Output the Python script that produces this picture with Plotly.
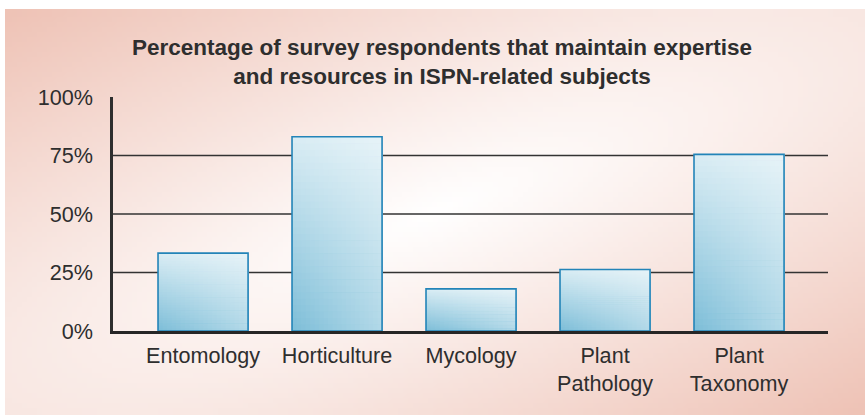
import base64
import struct
import zlib

import plotly.graph_objects as go

# ---------------- data ----------------
categories = ["Entomology", "Horticulture", "Mycology", "Plant<br>Pathology", "Plant<br>Taxonomy"]
percent_values = [33.3, 83.0, 18.0, 26.3, 75.5]
y_tick_values = [0, 25, 50, 75, 100]
y_tick_labels = ["0%", "25%", "50%", "75%", "100%"]
grid_values = [25, 50, 75]
title_text = ("Percentage of survey respondents that maintain expertise<br>"
              "and resources in ISPN-related subjects")

# ---------------- styles ----------------
W, H = 865, 415
FONT = "Liberation Sans, Arial, Helvetica, sans-serif"
TEXT = "#2e2e2e"
BAR_DARK = (122, 188, 215)
BAR_LIGHT = (248, 252, 253)
BAR_EDGE = "#2384b8"
BAR_WIDTH = 0.672
PINK = (238, 194, 181)


def lerp(a, b, t):
    return tuple(int(round(a[i] + (b[i] - a[i]) * t)) for i in range(3))


def png_data_uri(w, h, pixel_fn):
    raw = bytearray()
    for yy in range(h):
        raw.append(0)
        for xx in range(w):
            raw.extend(pixel_fn(xx, yy))

    def chunk(tag, data):
        return (struct.pack(">I", len(data)) + tag + data
                + struct.pack(">I", zlib.crc32(tag + data) & 0xFFFFFFFF))

    png = (b"\x89PNG\r\n\x1a\n"
           + chunk(b"IHDR", struct.pack(">IIBBBBB", w, h, 8, 2, 0, 0, 0))
           + chunk(b"IDAT", zlib.compress(bytes(raw), 9))
           + chunk(b"IEND", b""))
    return "data:image/png;base64," + base64.b64encode(png).decode()


# background panel gradient (pink corners top-left / bottom-right, white centre)
IW, IH = 172, 81


def bg_pixel(xx, yy):
    u = (xx + 0.5) / IW
    w = (yy + 0.5) / IH
    d = (u + w) / 2.0
    e = (u - w) / 2.0
    s = (((d - 0.5) / 0.5) ** 2 * 1.0 + (e / 0.5) ** 2 * 0.16) ** 0.5
    s = min(1.0, s)
    return bytes(lerp((255, 255, 255), PINK, s))


bg_uri = png_data_uri(IW, IH, bg_pixel)

# plot area in pixels
L, R, T, B = 113, 37, 97, 84
pw, ph = W - L - R, H - T - B
panel_x0, panel_y0, panel_x1, panel_y1 = 5, 9, 865, 415

fig = go.Figure()

# bar gradient: grid of opaque cells (each extends to the bar's right/top edge,
# later cells cover earlier ones), diagonal dark (bottom-left) -> light (top-right)
NH, NV = 20, 30
P_TOP = 0.75
for j in range(NV):
    v = (j + 0.5) / NV
    frac = j / NV
    for k in range(NH):
        u = (k + 0.5) / NH
        b = 0.02 + 0.42 * u
        t = b + P_TOP * v * (1 - b)
        col = lerp(BAR_DARK, BAR_LIGHT, t)
        fig.add_trace(go.Bar(
            x=categories,
            base=[val * frac for val in percent_values],
            y=[val * (1 - frac) for val in percent_values],
            width=BAR_WIDTH * (1 - k / NH),
            offset=-BAR_WIDTH / 2 + BAR_WIDTH * k / NH,
            marker=dict(color="rgb(%d,%d,%d)" % col, line=dict(width=0)),
            hoverinfo="skip", showlegend=False,
        ))

# outline
fig.add_trace(go.Bar(
    x=categories, y=percent_values,
    width=BAR_WIDTH, offset=-BAR_WIDTH / 2,
    marker=dict(color="rgba(0,0,0,0)", line=dict(color=BAR_EDGE, width=1.6)),
    showlegend=False,
))

shapes = [dict(type="line", xref="paper", yref="y", x0=0, x1=1, y0=g, y1=g,
               line=dict(color="#333333", width=1.6), layer="below")
          for g in grid_values]

fig.update_layout(
    width=W, height=H,
    margin=dict(l=L, r=R, t=T, b=B, pad=0),
    paper_bgcolor="white",
    plot_bgcolor="rgba(0,0,0,0)",
    barmode="overlay",
    font=dict(family=FONT, color=TEXT, size=21.6),
    title=dict(text="<b>" + title_text + "</b>", x=442 / W, xanchor="center",
               y=1 - 55 / H, yanchor="top", font=dict(size=22.5, color=TEXT, family=FONT)),
    shapes=shapes,
    images=[dict(source=bg_uri, xref="paper", yref="paper",
                 x=(panel_x0 - L) / pw, y=(H - B - panel_y0) / ph,
                 sizex=(panel_x1 - panel_x0) / pw, sizey=(panel_y1 - panel_y0) / ph,
                 sizing="stretch", xanchor="left", yanchor="top", layer="below")],
    xaxis=dict(range=[-0.672, 4.664], showgrid=False, zeroline=False,
               showline=True, linecolor="#262626", linewidth=3,
               ticks="", ticklabelstandoff=3, automargin=False,
               tickfont=dict(size=21.6, color=TEXT)),
    yaxis=dict(range=[0, 100], tickvals=y_tick_values, ticktext=y_tick_labels,
               showgrid=False, zeroline=False,
               showline=True, linecolor="#2e2e2e", linewidth=2.5,
               ticks="", ticklabelstandoff=13, automargin=False,
               tickfont=dict(size=21.6, color=TEXT)),
)

fig.write_html("out.html", config={"displayModeBar": False},
               post_script="document.body.style.margin='0';document.body.style.overflow='hidden';")
